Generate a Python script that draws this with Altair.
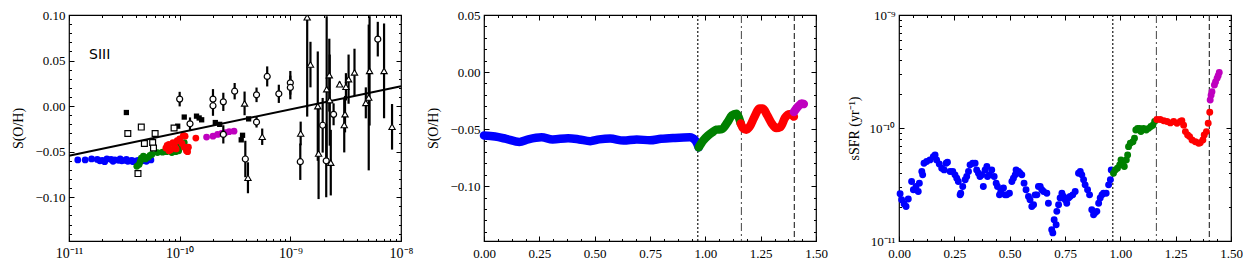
import altair as alt
import numpy as np
import pandas as pd

FONT = "Liberation Serif"
W, H = 332, 226
BLUE, GREEN, RED, MAG = "#0000ff", "#008000", "#ff0000", "#bf00bf"

# ---------------- Panel 1 data : S(O/H) vs sSFR ----------------
p1_blue_x = [1.2, 1.4, 1.6, 1.8, 1.9, 2.0, 2.1, 2.2, 2.4, 2.5, 2.6, 2.8, 2.9, 3.0, 3.2, 3.3, 3.4, 3.6, 3.7, 3.8, 4.0, 4.2, 4.3, 4.6, 5.0, 5.5]  # x1e-11
p1_blue_y = [-0.059, -0.059, -0.058, -0.0585, -0.060, -0.0595, -0.061, -0.058, -0.0585, -0.0605, -0.059, -0.0595, -0.058, -0.060, -0.0595, -0.0585, -0.0605, -0.060, -0.0595, -0.061, -0.0605, -0.0595, -0.0605, -0.060, -0.0605, -0.059]
p1_green_x = [4.1, 4.3, 4.4, 4.5, 4.7, 4.9, 5.2, 5.4, 5.6, 6.3, 7.0, 7.6, 8.5, 9.2, 9.5, 9.8, 10.0, 10.5, 11.0]
p1_green_y = [-0.066, -0.064, -0.061, -0.057, -0.055, -0.058, -0.056, -0.054, -0.053, -0.051, -0.0505, -0.050, -0.051, -0.050, -0.046, -0.049, -0.044, -0.042, -0.040]
p1_red_x = [7.5, 7.7, 8.0, 8.0, 8.3, 8.7, 9.0, 9.3, 9.5, 10.0, 10.5, 10.8, 11.0, 11.2, 11.5, 11.8, 12.0, 14.0]
p1_red_y = [-0.046, -0.043, -0.042, -0.049, -0.048, -0.040, -0.044, -0.047, -0.038, -0.036, -0.041, -0.032, -0.045, -0.033, -0.049, -0.050, -0.045, -0.035]
p1_mag_x = [17.5, 20, 22, 24, 26, 28, 31]
p1_mag_y = [-0.034, -0.033, -0.031, -0.030, -0.029, -0.028, -0.0275]

fsq_x = [3.3e-11, 9.6e-11, 1.1e-10, 1.42e-10, 1.5e-10, 1.58e-10, 2.1e-10, 2.3e-10, 3.6e-10, 3.7e-10, 4.2e-10]
fsq_y = [-0.007, -0.022, -0.012, -0.011, -0.013, -0.015, -0.018, -0.020, -0.037, -0.032, -0.014]
osq_x = [3.4e-11, 4.5e-11, 4.8e-11, 5.7e-11, 6.0e-11, 5.8e-11, 4.2e-11, 8.9e-11]
osq_y = [-0.030, -0.023, -0.041, -0.040, -0.030, -0.046, -0.074, -0.024]

circ_x = [1.0e-10, 1.24e-10, 2.0e-10, 2.0e-10, 2.48e-10, 2.48e-10, 3.14e-10, 3.92e-10, 4.95e-10, 4.95e-10,
          6.18e-10, 7.87e-10, 1.0e-9, 1.0e-9, 1.23e-9, 1.96e-9, 2.11e-9, 2.46e-9, 6.17e-9]
circ_y = [0.0077, -0.0194, 0.0077, 0.0004, 0.0047, -0.031, 0.0164, -0.058, 0.0124, -0.0175,
          0.0326, 0.0135, 0.0256, 0.0205, -0.061, -0.021, -0.060, -0.009, 0.0735]
circ_err = [0.008, 0.007, 0.011, 0.011, 0.010, 0.010, 0.009, 0.020, 0.008, 0.006,
            0.011, 0.010, 0.013, 0.013, 0.020, 0.030, 0.040, 0.012, 0.019]

tri_x = [3.86e-10, 4.14e-10, 5.57e-10, 1.24e-9, 1.42e-9, 1.52e-9, 1.77e-9, 1.80e-9, 2.13e-9, 2.25e-9, 2.27e-9, 2.32e-9,
         2.79e-9, 3.07e-9, 3.12e-9, 3.18e-9, 3.36e-9, 3.8e-9, 4.81e-9, 5.11e-9, 5.2e-9, 7.03e-9, 8.3e-9]
tri_y = [0.003, -0.0786, -0.0336, -0.030, 0.0975, 0.0456, 0.0, -0.052, 0.0186, 0.034, 0.0066, -0.062,
         0.024, -0.0208, -0.0088, 0.0212, 0.0296, 0.037, 0.0036, 0.0095, 0.0387, 0.0387, -0.0227]
tri_err = [0.013, 0.017, 0.009, 0.013, 0.109, 0.025, 0.060, 0.050, 0.080, 0.040, 0.050, 0.036,
           0.003, 0.030, 0.020, 0.015, 0.027, 0.026, 0.017, 0.080, 0.060, 0.052, 0.025]

fit_x = [1e-11, 1e-8]
fit_y = [-0.0545, 0.0219]

# ---------------- Panel 2 data : S(O/H) vs time ----------------
p2_blue_x = [0.00, 0.05, 0.10, 0.16, 0.20, 0.26, 0.31, 0.38, 0.43, 0.48, 0.52, 0.57, 0.63, 0.69, 0.75, 0.80, 0.86, 0.93, 0.955, 0.97]
p2_blue_y = [-0.0556, -0.0565, -0.0585, -0.0612, -0.0590, -0.0572, -0.0590, -0.0580, -0.0590, -0.0605, -0.0590, -0.0582, -0.0600, -0.0590, -0.0598, -0.0585, -0.0577, -0.0572, -0.0600, -0.0660]
p2_green_x = [0.97, 0.99, 1.01, 1.03, 1.05, 1.075, 1.10, 1.12, 1.14, 1.16]
p2_green_y = [-0.066, -0.060, -0.056, -0.053, -0.0505, -0.050, -0.044, -0.038, -0.0365, -0.045]
p2_red_x = [1.16, 1.17, 1.185, 1.20, 1.22, 1.245, 1.26, 1.28, 1.30, 1.32, 1.34, 1.36, 1.38, 1.40]
p2_red_y = [-0.045, -0.049, -0.0505, -0.048, -0.040, -0.032, -0.032, -0.038, -0.045, -0.049, -0.048, -0.040, -0.037, -0.039]
p2_mag_x = [1.40, 1.42, 1.435, 1.445]
p2_mag_y = [-0.035, -0.030, -0.0275, -0.028]

vline_x = [0.966, 1.163, 1.402]

# ---------------- Panel 3 data : sSFR vs time (units of 1e-11 yr^-1) ----------------
p3_blue_x = [0.005, 0.012, 0.023, 0.032, 0.042, 0.057, 0.065, 0.077, 0.087, 0.092,
             0.103, 0.107, 0.113, 0.125, 0.140, 0.155, 0.163, 0.170, 0.182, 0.193,
             0.204, 0.213, 0.219, 0.231, 0.243, 0.253, 0.261, 0.268, 0.276, 0.279,
             0.288, 0.299, 0.306, 0.314, 0.321, 0.333, 0.344, 0.351, 0.359, 0.366,
             0.374, 0.381, 0.389, 0.397, 0.400, 0.409, 0.419, 0.430, 0.439, 0.445,
             0.454, 0.460, 0.472, 0.479, 0.487, 0.499, 0.510, 0.517, 0.525, 0.529,
             0.540, 0.547, 0.555, 0.565, 0.574, 0.585, 0.592, 0.600, 0.608, 0.615,
             0.623, 0.630, 0.638, 0.645, 0.653, 0.668, 0.675, 0.690, 0.695, 0.701,
             0.710, 0.713, 0.721, 0.728, 0.736, 0.743, 0.751, 0.758, 0.766, 0.773,
             0.785, 0.796, 0.811, 0.819, 0.826, 0.834, 0.841, 0.852, 0.861, 0.871,
             0.879, 0.886, 0.894, 0.902, 0.909, 0.917, 0.924, 0.936, 0.947, 0.955, 0.959]
p3_blue_y = [2.62, 2.32, 2.13, 2.02, 2.35, 3.36, 2.84, 3.04, 2.74, 3.25,
             4.12, 3.85, 4.88, 5.05, 5.22, 5.58, 5.78, 5.22, 4.81, 4.41,
             4.26, 4.88, 4.98, 4.12, 4.12, 3.85, 3.59, 3.36, 2.56, 2.65,
             3.04, 3.48, 3.72, 4.12, 4.72, 4.88, 4.88, 4.26, 3.98, 3.72,
             3.85, 3.04, 4.26, 4.56, 3.72, 3.85, 4.26, 3.72, 3.25, 3.04,
             2.56, 2.74, 2.94, 2.56, 2.56, 2.65, 3.36, 3.59, 3.85, 4.26,
             4.12, 3.98, 3.85, 3.25, 2.84, 2.48, 2.32, 2.02, 2.09, 2.56,
             2.56, 3.04, 3.04, 2.84, 2.74, 2.65, 2.16, 1.26, 1.18, 1.54,
             1.39, 1.83, 2.09, 2.40, 2.65, 2.48, 2.32, 2.16, 2.40, 2.48,
             2.56, 2.74, 3.98, 4.12, 3.85, 3.48, 3.14, 2.84, 2.56, 1.89,
             1.71, 1.78, 1.83, 2.16, 2.40, 2.56, 2.65, 2.65, 3.14, 3.48, 4.26]
p3_green_x = [0.969, 0.977, 0.987, 0.997, 1.003, 1.012, 1.018, 1.027, 1.033, 1.037, 1.045, 1.057,
              1.064, 1.070, 1.078, 1.087, 1.093, 1.105, 1.117, 1.128, 1.138, 1.147, 1.155]
p3_green_y = [3.98, 4.26, 4.41, 4.72, 5.22, 4.88, 4.56, 5.22, 5.78, 6.84, 7.32, 7.57,
              8.11, 9.60, 9.93, 9.93, 9.29, 9.93, 9.60, 9.93, 10.3, 10.6, 11.4]
p3_red_x = [1.165, 1.180, 1.196, 1.211, 1.226, 1.241, 1.256, 1.271, 1.278, 1.286, 1.294,
            1.304, 1.313, 1.324, 1.339, 1.354, 1.361, 1.373, 1.379, 1.389, 1.397, 1.404]
p3_red_y = [11.9, 11.9, 11.6, 11.4, 11.1, 11.4, 11.0, 11.4, 11.6, 10.6, 9.29,
            8.67, 8.39, 7.84, 7.57, 7.32, 7.4, 7.84, 8.67, 9.29, 11.0, 13.8]
p3_mag_x = [1.406, 1.410, 1.414, 1.425, 1.430, 1.437, 1.442, 1.447]
p3_mag_y = [17.7, 19.5, 20.9, 24.0, 25.5, 27.5, 29.0, 31.0]

# ---------------- tick positions ----------------
dec_maj = [1e-11, 1e-10, 1e-9, 1e-8]
dec_min = [float(k * 10.0 ** e) for e in (-11, -10, -9) for k in range(2, 10)]
y1_maj = [-0.10, -0.05, 0.0, 0.05, 0.10]
y1_min = [round(v, 3) for v in np.arange(-0.14, 0.1001, 0.01)]
y2_maj = [-0.10, -0.05, 0.0, 0.05]
y2_min = [round(v, 3) for v in np.arange(-0.14, 0.0501, 0.01)]
t_maj = [0.0, 0.25, 0.5, 0.75, 1.0, 1.25, 1.5]
t_min = [float(v) for v in np.arange(0, 1.5001, 0.0625)]
s_maj = [1e-11, 1e-10, 1e-9]
s_min = [float(k * 10.0 ** e) for e in (-11, -10) for k in range(2, 10)]


def inward_ticks(xs, ys, dx, dy, xmaj, xmin, ymaj, ymin):
    d = pd.DataFrame({"tx": [dx], "ty": [dy]})
    out = []
    specs = [("top", "right", xmaj, ymaj, 5.0), ("bottom", "left", xmaj, ymaj, 5.0),
             ("top", "right", xmin, ymin, 2.5), ("bottom", "left", xmin, ymin, 2.5)]
    for ox, oy, xv, yv, sz in specs:
        out.append(alt.Chart(d).mark_point(opacity=0).encode(
            x=alt.X("tx:Q", scale=xs, axis=alt.Axis(orient=ox, offset=-H, values=xv, labels=False, domain=False,
                                                    grid=False, ticks=True, tickSize=sz, tickWidth=1,
                                                    tickColor="black", title=None, zindex=1)),
            y=alt.Y("ty:Q", scale=ys, axis=alt.Axis(orient=oy, offset=-W, values=yv, labels=False, domain=False,
                                                    grid=False, ticks=True, tickSize=sz, tickWidth=1,
                                                    tickColor="black", title=None, zindex=1)),
        ))
    return out


def frame(xs, ys, dx, dy, xaxis, yaxis):
    d = pd.DataFrame({"fx": [dx], "fy": [dy]})
    return alt.Chart(d).mark_point(opacity=0).encode(
        x=alt.X("fx:Q", scale=xs, axis=xaxis), y=alt.Y("fy:Q", scale=ys, axis=yaxis))


def pts(xv, yv, xs, ys, color, size=46):
    d = pd.DataFrame({"x": xv, "y": yv})
    return alt.Chart(d).mark_circle(size=size, color=color, opacity=1).encode(
        x=alt.X("x:Q", scale=xs, axis=None), y=alt.Y("y:Q", scale=ys, axis=None))


# ================= Panel 1 =================
xs1 = alt.Scale(type="log", domain=[1e-11, 1e-8], nice=False)
ys1 = alt.Scale(domain=[-0.148, 0.10], nice=False, zero=False)
log_lab = "datum.value < 5e-11 ? '10⁻¹¹' : datum.value < 5e-10 ? '10⁻¹⁰' : datum.value < 5e-9 ? '10⁻⁹' : '10⁻⁸'"
x1_axis = alt.Axis(orient="bottom", values=dec_maj, labelExpr=log_lab, ticks=False, domain=False, grid=False,
                   labelFlush=False, labelOverlap=False, labelPadding=5, labelFontSize=14, title=None)
y1_axis = alt.Axis(orient="left", values=y1_maj, format=".2f", ticks=False, domain=False, grid=False,
                   labelOverlap=False, labelPadding=4, title="S(O/H)", titlePadding=9)

e = 1e-11
c_df = pd.DataFrame({"x": circ_x, "y": circ_y, "err": circ_err})
c_df["lo"] = c_df["y"] - c_df["err"]
c_df["hi"] = c_df["y"] + c_df["err"]
t_df = pd.DataFrame({"x": tri_x, "y": tri_y, "err": tri_err})
t_df["lo"] = t_df["y"] - t_df["err"]
t_df["hi"] = t_df["y"] + t_df["err"]

X1 = alt.X("x:Q", scale=xs1, axis=None)
Y1 = alt.Y("y:Q", scale=ys1, axis=None)

p1_layers = [frame(xs1, ys1, 1e-10, 0.0, x1_axis, y1_axis)]
p1_layers += inward_ticks(xs1, ys1, 1e-10, 0.0, dec_maj, dec_min, y1_maj, y1_min)
p1_layers += [
    pts([v * e for v in p1_blue_x], p1_blue_y, xs1, ys1, BLUE),
    pts([v * e for v in p1_green_x], p1_green_y, xs1, ys1, GREEN),
    pts([v * e for v in p1_red_x], p1_red_y, xs1, ys1, RED),
    pts([v * e for v in p1_mag_x], p1_mag_y, xs1, ys1, MAG),
    alt.Chart(pd.DataFrame({"x": fsq_x, "y": fsq_y})).mark_square(size=28, color="black", opacity=1).encode(x=X1, y=Y1),
    alt.Chart(pd.DataFrame({"x": osq_x, "y": osq_y})).mark_square(size=34, fill="white", stroke="black", strokeWidth=1.2, opacity=1).encode(x=X1, y=Y1),
    alt.Chart(c_df).mark_rule(color="black", strokeWidth=2.2, clip=True).encode(x=X1, y=alt.Y("lo:Q", scale=ys1, axis=None), y2="hi:Q"),
    alt.Chart(t_df).mark_rule(color="black", strokeWidth=2.2, clip=True).encode(x=X1, y=alt.Y("lo:Q", scale=ys1, axis=None), y2="hi:Q"),
    alt.Chart(pd.DataFrame({"x": fit_x, "y": fit_y})).mark_line(color="black", strokeWidth=2).encode(x=X1, y=Y1),
    alt.Chart(c_df).mark_point(shape="circle", filled=True, fill="white", stroke="black", strokeWidth=1.2, size=36, opacity=1, clip=True).encode(x=X1, y=Y1),
    alt.Chart(t_df).mark_point(shape="triangle-up", filled=True, fill="white", stroke="black", strokeWidth=1.1, size=40, opacity=1, clip=True).encode(x=X1, y=Y1),
    alt.Chart(pd.DataFrame({"t": ["SIII"]})).mark_text(font="DejaVu Sans", fontSize=14, align="left", baseline="middle", color="black").encode(
        text="t:N", x=alt.value(20), y=alt.value(40)),
]
p1 = alt.layer(*p1_layers).properties(width=W, height=H)

# ================= Panel 2 =================
xs2 = alt.Scale(domain=[0, 1.5], nice=False, zero=False)
ys2 = alt.Scale(domain=[-0.148, 0.05], nice=False, zero=False)
t_axis = alt.Axis(orient="bottom", values=t_maj, format=".2f", ticks=False, domain=False, grid=False,
                  labelFlush=False, labelOverlap=False, labelPadding=6, title=None)
y2_axis = alt.Axis(orient="left", values=y2_maj, format=".2f", ticks=False, domain=False, grid=False,
                   labelOverlap=False, labelPadding=4, title="S(O/H)", titlePadding=9)


def seg(xv, yv, xs, ys, color):
    d = pd.DataFrame({"x": xv, "y": yv})
    return alt.Chart(d).mark_line(color=color, strokeWidth=8.5, strokeCap="round", strokeJoin="round",
                                  interpolate="monotone").encode(
        x=alt.X("x:Q", scale=xs, axis=None), y=alt.Y("y:Q", scale=ys, axis=None))


def vlines(xs):
    styles = [([2, 2], "black"), ([8, 3, 2, 3], "#555555"), ([6, 3], "#222222")]
    out = []
    for xv, (dash, col) in zip(vline_x, styles):
        out.append(alt.Chart(pd.DataFrame({"x": [xv]})).mark_rule(strokeDash=dash, color=col, strokeWidth=1.1).encode(
            x=alt.X("x:Q", scale=xs, axis=None)))
    return out


p2_layers = [frame(xs2, ys2, 0.5, 0.0, t_axis, y2_axis)]
p2_layers += inward_ticks(xs2, ys2, 0.5, 0.0, t_maj, t_min, y2_maj, y2_min)
p2_layers += vlines(xs2)
p2_layers += [
    seg(p2_blue_x, p2_blue_y, xs2, ys2, BLUE),
    seg(p2_green_x, p2_green_y, xs2, ys2, GREEN),
    seg(p2_red_x, p2_red_y, xs2, ys2, RED),
    seg(p2_mag_x, p2_mag_y, xs2, ys2, MAG),
]
p2 = alt.layer(*p2_layers).properties(width=W, height=H)

# ================= Panel 3 =================
ys3 = alt.Scale(type="log", domain=[1e-11, 1e-9], nice=False)
s_lab = "datum.value < 5e-11 ? '10⁻¹¹' : datum.value < 5e-10 ? '10⁻¹⁰' : '10⁻⁹'"
y3_axis = alt.Axis(orient="left", values=s_maj, labelExpr=s_lab, ticks=False, domain=False, grid=False,
                   labelOverlap=False, labelPadding=4, title="sSFR (yr⁻¹)", titlePadding=8)

p3_layers = [frame(xs2, ys3, 0.5, 1e-10, t_axis, y3_axis)]
p3_layers += inward_ticks(xs2, ys3, 0.5, 1e-10, t_maj, t_min, s_maj, s_min)
p3_layers += vlines(xs2)
p3_layers += [
    pts(p3_blue_x, [v * e for v in p3_blue_y], xs2, ys3, BLUE, 48),
    pts(p3_green_x, [v * e for v in p3_green_y], xs2, ys3, GREEN, 48),
    pts(p3_red_x, [v * e for v in p3_red_y], xs2, ys3, RED, 48),
    pts(p3_mag_x, [v * e for v in p3_mag_y], xs2, ys3, MAG, 48),
]
p3 = alt.layer(*p3_layers).properties(width=W, height=H)

chart = alt.hconcat(p1, p2, p3, spacing=83, bounds="flush").properties(
    padding={"left": 3, "top": 0, "right": 0, "bottom": 0}
).configure_view(stroke="black", strokeWidth=1.2).configure_axis(
    labelFont=FONT, titleFont=FONT, labelFontSize=13, titleFontSize=14, labelColor="black",
    titleColor="black", titleFontWeight="normal"
)

chart.save("out.html", embed_options={"renderer": "svg", "actions": False})
